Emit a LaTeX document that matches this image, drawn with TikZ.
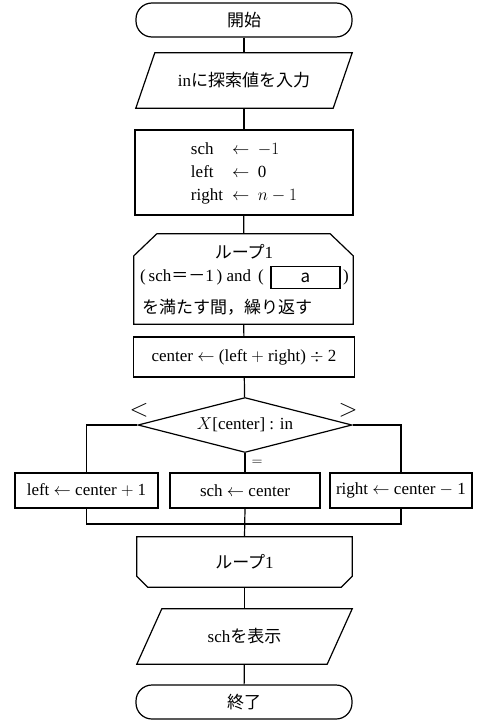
\documentclass[tikz,border=0pt]{standalone}
\usepackage{fontspec}
\setmainfont{Liberation Serif}
\newfontfamily\jp{Noto Sans CJK JP}
\usetikzlibrary{shapes.geometric}

\tikzset{
  every node/.style={font=\fontsize{17}{20}\selectfont},
  line/.style={line width=1.2pt},
  flowbox/.style={draw, line, inner sep=0pt},
  term/.style={flowbox, rounded corners=16pt, minimum width=216pt, minimum height=34pt},
  shell/.style={inner sep=0pt},
  proc/.style={flowbox, rectangle, minimum height=35pt}
}

\begin{document}
\begin{tikzpicture}[x=1pt, y=-1pt]
  \useasboundingbox (0,0) rectangle (480,728);
  \def\cx{244}

  \node[term] (start) at (\cx,20) {\jp 開始};

  % input: parallelogram drawn on the node corners
  \node[shell, minimum width=216pt, minimum height=55pt] (input) at (\cx,80.5)
    {in{\jp に探索値を入力}};
  \draw[line] ([xshift=19pt]input.north west) -- (input.north east)
    -- ([xshift=-19pt]input.south east) -- (input.south west) -- cycle;

  \node[proc, minimum width=218pt, minimum height=85pt] (init) at (\cx,172.5)
    {\renewcommand\arraystretch{1.15}%
     \begin{tabular}{@{}l@{\hspace{9pt}}l@{}}
       sch & $\leftarrow$ \ $-1$\\
       left & $\leftarrow$ \ 0\\
       right & $\leftarrow$ \ $n-1$
     \end{tabular}};

  % loop head, its texts are placed one by one
  \node[shell, minimum width=219pt, minimum height=90pt] (loop) at (243.5,279) {};
  \draw[line] (loop.south west) -- ([yshift=-22pt]loop.north west)
    -- ([xshift=23pt]loop.north west) -- ([xshift=-23pt]loop.north east)
    -- ([yshift=-22pt]loop.north east) -- (loop.south east) -- cycle;
  \node (title) at (\cx,252) {{\jp ループ}1};
  \node[anchor=west, inner sep=0pt] (cond) at (140,277)
    {(\,sch{\jp ＝－}1\,) and\, (};
  \node[draw, line width=1.7pt, minimum width=69pt, minimum height=22pt, inner sep=0pt] (blank)
    at (305.5,277.5) {\jp a};
  \node[anchor=west, inner sep=0pt] (close) at (343,277) {)};
  \node[anchor=west, inner sep=0pt] (repeat) at (142,307) {\jp を満たす間，繰り返す};

  \node[proc, minimum width=221pt, minimum height=40pt] (mid) at (\cx,357)
    {center $\leftarrow$ (left $+$ right) $\div$ 2};

  \node[flowbox, diamond, aspect=3.9, minimum width=214pt, minimum height=55pt] (test) at (245,425)
    {$X$[center] : in};
  \node[font=\fontsize{24}{24}\selectfont] (lt) at (139,410) {$<$};
  \node[font=\fontsize{24}{24}\selectfont] (gt) at (348,410) {$>$};
  \node[font=\fontsize{14}{16}\selectfont] (eq) at (257,463) {$=$};

  \node[proc, minimum width=143pt] (lft) at (86.5,490.5) {left $\leftarrow$ center $+$ 1};
  \node[proc, minimum width=150pt] (hit) at (245,490.5) {sch $\leftarrow$ center};
  \node[proc, minimum width=142pt] (rgt) at (401,490.5) {right $\leftarrow$ center $-$ 1};
  \coordinate (join) at (245,524);

  % loop tail
  \node[shell, minimum width=215pt, minimum height=50pt] (lend) at (244.5,562) {{\jp ループ}1};
  \draw[line] (lend.north west) -- (lend.north east)
    -- ([yshift=11pt]lend.south east) -- ([xshift=-11pt]lend.south east)
    -- ([xshift=11pt]lend.south west) -- ([yshift=11pt]lend.south west) -- cycle;

  \node[shell, minimum width=215pt, minimum height=55pt] (output) at (244.5,636.5) {sch{\jp を表示}};
  \draw[line] ([xshift=25pt]output.north west) -- (output.north east)
    -- ([xshift=-25pt]output.south east) -- (output.south west) -- cycle;

  \node[term] (stop) at (\cx,702) {\jp 終了};

  \draw[line] (start) -- (input);
  \draw[line] (input) -- (init);
  \draw[line] (init) -- (loop);
  \draw[line] (loop) -- (mid);
  \draw[line] (mid) -- (test);
  \draw[line] (test.west) -| (lft.north);
  \draw[line] (test.east) -| (rgt.north);
  \draw[line] (test.south) -- (hit.north);
  \draw[line] (lft.south) |- (join) -| (rgt.south);
  \draw[line] (hit.south) -- (lend.north);
  \draw[line] (lend) -- (output);
  \draw[line] (output) -- (stop);
\end{tikzpicture}
\end{document}
